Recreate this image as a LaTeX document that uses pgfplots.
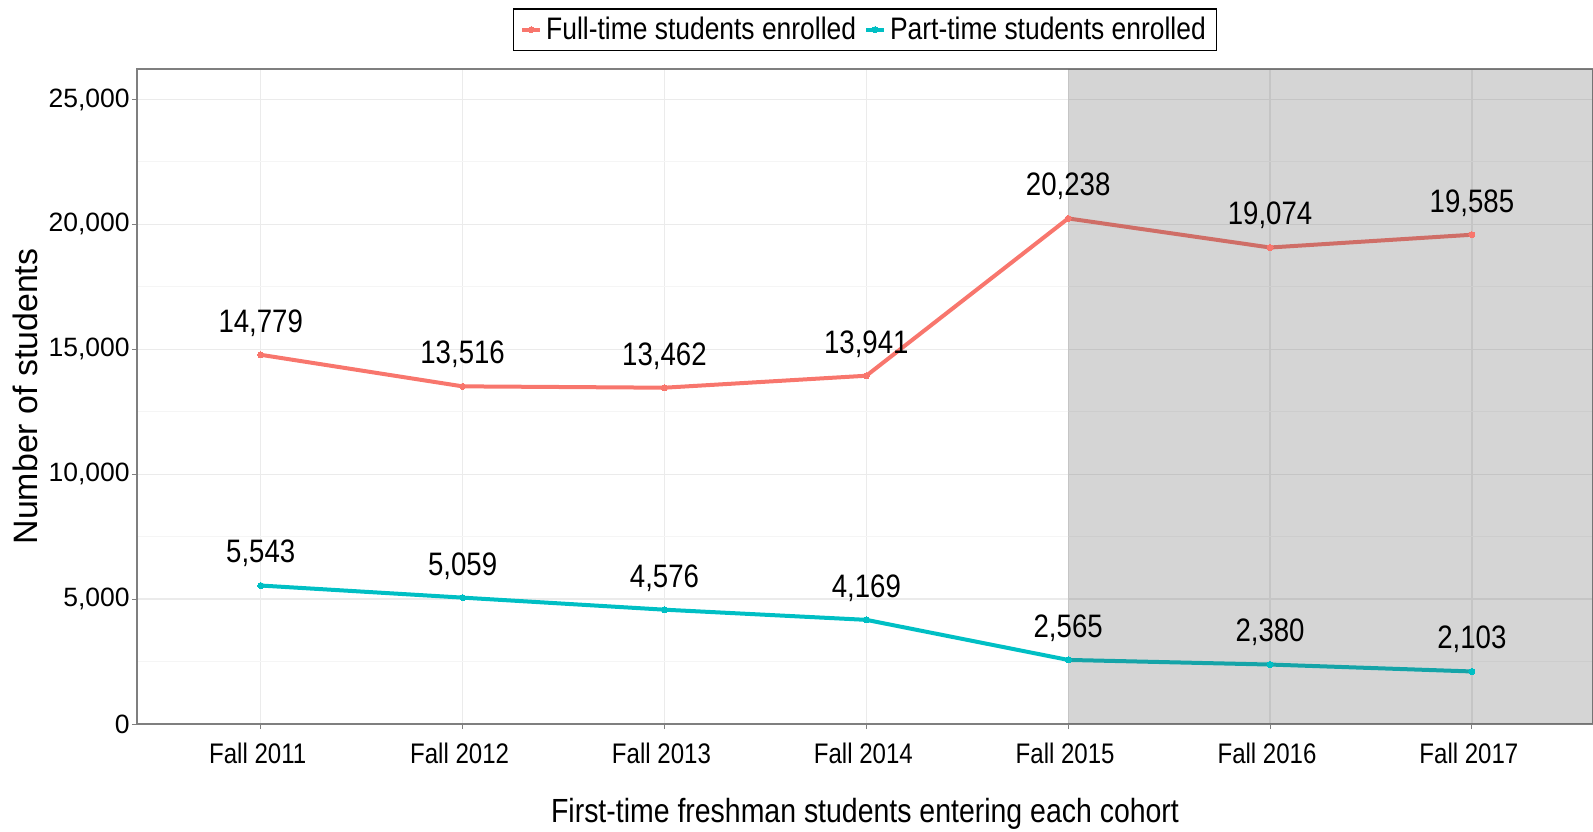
\documentclass[border=0pt]{standalone}
\usepackage{pgfplots}
\pgfplotsset{compat=1.18}
\usepackage{fontspec}
\setmainfont{Liberation Sans}
\newfontfamily\cond[FakeStretch=0.85]{Liberation Sans}
\definecolor{ftred}{RGB}{248,118,109}
\definecolor{ptteal}{RGB}{0,191,196}
\definecolor{gridmaj}{RGB}{235,235,235}
\definecolor{gridmin}{RGB}{245,245,245}
\definecolor{axgray}{RGB}{127,127,127}
\definecolor{shadeg}{RGB}{86,87,87}
\pgfplotstableread{
x y
0 14779
1 13516
2 13462
3 13941
4 20238
5 19074
6 19585
}\fulltime
\pgfplotstableread{
x y
0 5543
1 5059
2 4576
3 4169
4 2565
5 2380
6 2103
}\parttime
\begin{document}
\begin{tikzpicture}
\useasboundingbox (-68.5bp,-54bp) rectangle (728bp,362bp);
\begin{axis}[
  at={(0,0)}, anchor=south west,
  scale only axis, width=728bp, height=327.5bp,
  xmin=-0.613, xmax=6.6, ymin=0, ymax=26220,
  xtick={0,1,2,3,4,5,6},
  xticklabels={Fall 2011,Fall 2012,Fall 2013,Fall 2014,Fall 2015,Fall 2016,Fall 2017},
  ytick={0,5000,10000,15000,20000,25000},
  yticklabels={0,{5,000},{10,000},{15,000},{20,000},{25,000}},
  scaled y ticks=false,
  minor ytick={2500,7500,12500,17500,22500},
  xmajorgrids, ymajorgrids, yminorgrids,
  major grid style={color=gridmaj, line width=0.6bp},
  minor grid style={color=gridmin, line width=0.5bp},
  tick align=outside, major tick length=2.5bp, minor tick length=0pt,
  xtick pos=bottom, ytick pos=left,
  tick style={color=axgray, line width=0.5bp},
  axis line style={color=axgray, line width=0.6bp},
  /pgf/number format/assume math mode=true,
  yticklabel style={font=\fontsize{13.3}{13.3}\selectfont, anchor=east, inner sep=0pt, xshift=-1bp},
  xticklabel style={font=\cond\fontsize{14.2}{14.2}\selectfont, anchor=north, inner sep=0pt, yshift=-7bp, xshift=-1.5bp},
  xlabel={First-time freshman students entering each cohort},
  xlabel style={font=\cond\fontsize{16.8}{17}\selectfont, at={(axis description cs:0.5,0)}, anchor=center, yshift=-45bp},
  ylabel={Number of students},
  ylabel style={font=\fontsize{17}{17}\selectfont, at={(axis description cs:-0.0766,0.5)}, anchor=center},
  legend columns=2,
  legend style={at={(axis description cs:0.5,1)}, anchor=south, yshift=9bp,
    draw=black, line width=0.6bp, font=\cond\fontsize{15.6}{16}\selectfont,
    inner xsep=3.5bp, inner ysep=2bp,
    /tikz/every even column/.style={column sep=2bp}},
  legend image code/.code={%
    \draw[mark repeat=2,mark phase=2,#1] plot coordinates {(0bp,0bp) (4.5bp,0bp) (9bp,0bp)};},
]
\addplot[color=ftred, line width=2bp, mark=*, mark size=1.5bp, mark options={line width=0pt}] table[x=x,y=y] {\fulltime};
\addlegendentry{Full-time students enrolled}
\addplot[color=ptteal, line width=2bp, mark=*, mark size=1.5bp, mark options={line width=0pt}] table[x=x,y=y] {\parttime};
\addlegendentry{Part-time students enrolled}
\addplot[draw=none, fill=shadeg, fill opacity=0.25, forget plot] coordinates {(4,26220) (6.6,26220)} \closedcycle;
\addplot[draw=none, mark=none, forget plot, point meta=y,
  nodes near coords={\pgfmathprintnumber[fixed,precision=0,1000 sep={,}]{\pgfplotspointmeta}},
  every node near coord/.append style={font=\cond\fontsize{16.3}{16.3}\selectfont, anchor=south, inner sep=0pt, yshift=9bp, text=black}]
  table[x=x,y=y] {\fulltime};
\addplot[draw=none, mark=none, forget plot, point meta=y,
  nodes near coords={\pgfmathprintnumber[fixed,precision=0,1000 sep={,}]{\pgfplotspointmeta}},
  every node near coord/.append style={font=\cond\fontsize{16.3}{16.3}\selectfont, anchor=south, inner sep=0pt, yshift=9bp, text=black}]
  table[x=x,y=y] {\parttime};
\end{axis}
\end{tikzpicture}
\end{document}
